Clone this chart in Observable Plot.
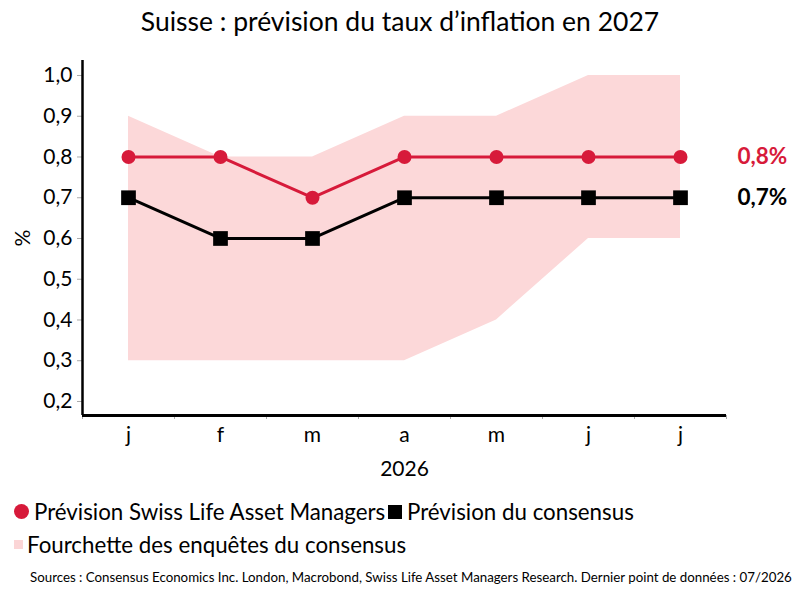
<!DOCTYPE html>
<html>
<head>
<meta charset="utf-8">
<script src="https://cdn.jsdelivr.net/npm/d3@7"></script>
<script src="https://cdn.jsdelivr.net/npm/@observablehq/plot@0.6"></script>
<style>
  body { margin: 0; background: white; font-family: Lato, sans-serif; color: black; }
  #wrap { width: 800px; height: 600px; position: relative; overflow: hidden; }
  #title { position: absolute; top: 5px; left: 0; width: 800px; text-align: center; font-size: 26.5px; }
  #chart { position: absolute; top: 50px; left: 0; }
  .leg { position: absolute; font-size: 22.3px; display: flex; align-items: center; white-space: nowrap; }
  .sw { display: inline-block; margin-right: 5px; }
  #caption { position: absolute; top: 569px; left: 30px; font-size: 13.3px; white-space: nowrap; }
</style>
</head>
<body>
<div id="wrap">
  <div id="title">Suisse : prévision du taux d’inflation en 2027</div>
  <div id="chart"></div>
  <div class="leg" style="top:498px; left:14px;"><span class="sw" style="width:15px;height:15px;border-radius:50%;background:#d71a3a;"></span>Prévision Swiss Life Asset Managers</div>
  <div class="leg" style="top:498px; left:388px;"><span class="sw" style="width:14px;height:14px;background:#000;"></span>Prévision du consensus</div>
  <div class="leg" style="top:531px; left:14px;"><span class="sw" style="width:9px;height:9px;background:#fbd5d6;margin-right:4px;"></span>Fourchette des enquêtes du consensus</div>
  <div id="caption">Sources : Consensus Economics Inc. London, Macrobond, Swiss Life Asset Managers Research. Dernier point de données : 07/2026</div>
</div>
<script>
const months = ["j", "f", "m", "a", "m", "j", "j"];
const yearLabel = "2026";
const slamForecast = [0.8, 0.8, 0.7, 0.8, 0.8, 0.8, 0.8];
const consensusForecast = [0.7, 0.6, 0.6, 0.7, 0.7, 0.7, 0.7];
const rangeLow = [0.3, 0.3, 0.3, 0.3, 0.4, 0.6, 0.6];
const rangeHigh = [0.9, 0.8, 0.8, 0.9, 0.9, 1.0, 1.0];
const yTicks = [0.2, 0.3, 0.4, 0.5, 0.6, 0.7, 0.8, 0.9, 1.0];

const rows = months.map((m, i) => ({
  i, month: m,
  slam: slamForecast[i],
  cons: consensusForecast[i],
  low: rangeLow[i],
  high: rangeHigh[i]
}));
const last = rows[rows.length - 1];

const RED = "#d71a3a";
const PINK = "#fcd8d9";
const yMin = 0.1656, yMax = 1.0368;
const boundaries = d3.range(-0.5, months.length, 1);

const fmt = d => d.toFixed(1).replace(".", ",");

const chart = Plot.plot({
  width: 800,
  height: 440,
  marginLeft: 82,
  marginRight: 74,
  marginTop: 10,
  marginBottom: 75,
  style: { fontFamily: "Lato, sans-serif", background: "white", color: "black", overflow: "visible" },
  x: { type: "linear", domain: [-0.5, months.length - 0.5] },
  y: { domain: [yMin, yMax] },
  marks: [
    Plot.areaY(rows, { x: "i", y1: "low", y2: "high", fill: PINK, curve: "linear" }),
    Plot.axisY({ ticks: yTicks, tickFormat: fmt, tickSize: 5, tickPadding: 5, fontSize: 21, stroke: "#aaa", fill: "black",
      label: "%", labelAnchor: "center", labelArrow: "none", labelOffset: 67 }),
    Plot.axisX({ ticks: boundaries, tickFormat: () => "", tickSize: 4, stroke: "#aaa", label: null }),
    Plot.axisX({ ticks: d3.range(months.length), tickFormat: i => months[i], tickSize: 0, tickPadding: 12, fontSize: 21, fill: "black",
      label: yearLabel, labelAnchor: "center", labelArrow: "none", labelOffset: 60 }),
    Plot.ruleX([-0.5], { stroke: "black", strokeWidth: 2.5 }),
    Plot.ruleY([yMin], { stroke: "black", strokeWidth: 3 }),
    Plot.lineY(rows, { x: "i", y: "cons", stroke: "black", strokeWidth: 3 }),
    Plot.dot(rows, { x: "i", y: "cons", symbol: "square", r: 8.3, fill: "black", stroke: null }),
    Plot.lineY(rows, { x: "i", y: "slam", stroke: RED, strokeWidth: 3 }),
    Plot.dot(rows, { x: "i", y: "slam", symbol: "circle", r: 7, fill: RED, stroke: null }),
    Plot.text([last], { x: "i", y: "slam", text: d => fmt(d.slam) + "%", dx: 57, textAnchor: "start", fill: RED, fontSize: 22.5, fontWeight: "bold" }),
    Plot.text([last], { x: "i", y: "cons", text: d => fmt(d.cons) + "%", dx: 57, textAnchor: "start", fill: "black", fontSize: 22.5, fontWeight: "bold" })
  ]
});
document.getElementById("chart").appendChild(chart);
</script>
</body>
</html>
